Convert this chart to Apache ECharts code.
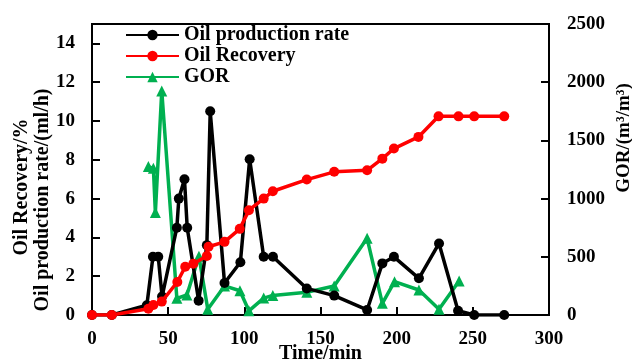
<!DOCTYPE html>
<html>
<head>
<meta charset="utf-8">
<script src="https://cdn.jsdelivr.net/npm/echarts@6/dist/echarts.min.js"></script>
<style>
html, body { margin: 0; padding: 0; background: #fff; }
#chart { width: 632px; height: 361px; }
</style>
</head>
<body>
<div id="chart"></div>
<script>
// time (min) / oil production rate (ml/h)
var rateTime = [0, 13, 36, 40, 43.5, 46, 55.7, 57, 60.7, 62.5, 70, 75.4, 77.6, 87, 97.4, 103.5, 112.7, 118.8, 141, 159, 180.6, 190.6, 198.2, 214.6, 227.8, 240.3, 250.9, 270.6];
var rateValue = [0, 0, 0.5, 3.0, 3.0, 0.95, 4.5, 6.0, 7.0, 4.5, 0.74, 3.6, 10.5, 1.65, 2.72, 8.03, 3.0, 3.0, 1.37, 1.0, 0.26, 2.66, 3.0, 1.89, 3.69, 0.22, 0, 0];

// time (min) / oil recovery (%)
var recTime = [0, 13, 37, 40.3, 45.8, 56, 61.2, 66.5, 75.4, 76.5, 87, 97, 103, 112.7, 118.7, 141, 159, 180.6, 190.6, 198.2, 214.3, 227.5, 240.6, 250.9, 270.6];
var recValue = [0, 0, 0.32, 0.52, 0.69, 1.7, 2.49, 2.64, 3.04, 3.52, 3.77, 4.44, 5.4, 6.0, 6.38, 6.98, 7.38, 7.46, 8.06, 8.58, 9.18, 10.24, 10.24, 10.24, 10.24];

// time (min) / GOR (m3/m3)
var gorTime = [37, 40.3, 41.6, 45.8, 55.7, 62.3, 70.2, 76, 87, 97.1, 103, 112.7, 118.7, 141, 159, 180.6, 190.6, 198.6, 214.6, 227.8, 241];
var gorValue = [1275, 1260, 880, 1925, 143, 172, 505, 50, 250, 208, 36, 145, 168, 195, 249, 659, 100, 286, 215, 49, 292];

var leftTicks = [0, 2, 4, 6, 8, 10, 12, 14];
var rightTicks = [0, 500, 1000, 1500, 2000, 2500];
var xTicks = [0, 50, 100, 150, 200, 250, 300];

function pairs(xs, ys) {
	return xs.map(function (x, i) { return [x, ys[i]]; });
}

var font = '"Liberation Serif", "Times New Roman", serif';
var myChart = echarts.init(document.getElementById('chart'));

var axisCommon = {
	axisLine: { show: true, lineStyle: { color: '#000', width: 2 } },
	axisTick: { show: true, inside: true, length: 8, lineStyle: { color: '#000', width: 2 } },
	axisLabel: { color: '#000', fontFamily: font, fontWeight: 'bold', fontSize: 19, formatter: function (v) { return String(v); } },
	splitLine: { show: false }
};

var option = {
	animation: false,
	backgroundColor: '#fff',
	textStyle: { fontFamily: font },
	grid: {
		left: 92, right: 83, top: 24, bottom: 46,
		outerBoundsMode: 'none',
		containLabel: false,
		show: true, borderColor: '#000', borderWidth: 2
	},
	legend: {
		orient: 'vertical',
		left: 125,
		top: 25,
		padding: 0,
		itemGap: 1,
		itemWidth: 53,
		itemHeight: 13,
		textStyle: { fontFamily: font, fontWeight: 'bold', fontSize: 20, color: '#000', lineHeight: 20 },
		data: ['Oil production rate', 'Oil Recovery', 'GOR']
	},
	xAxis: Object.assign({}, axisCommon, {
		type: 'value',
		min: xTicks[0],
		max: xTicks[xTicks.length - 1],
		interval: 50,
		name: 'Time/min',
		nameLocation: 'middle',
		nameGap: 29,
		nameMoveOverlap: false,
		nameTextStyle: { color: '#000', fontFamily: font, fontWeight: 'bold', fontSize: 20 },
		axisLabel: Object.assign({}, axisCommon.axisLabel, { margin: 15 })
	}),
	yAxis: [
		Object.assign({}, axisCommon, {
			type: 'value',
			min: leftTicks[0],
			max: 15,
			interval: 2,
			axisLabel: Object.assign({}, axisCommon.axisLabel, { margin: 17, showMaxLabel: false })
		}),
		Object.assign({}, axisCommon, {
			type: 'value',
			position: 'right',
			min: rightTicks[0],
			max: rightTicks[rightTicks.length - 1],
			interval: 500,
			axisLabel: Object.assign({}, axisCommon.axisLabel, { margin: 18 })
		})
	],
	graphic: [
		{
			type: 'text', x: 22, y: 187, rotation: Math.PI / 2,
			style: { text: 'Oil Recovery/%', font: 'bold 20px ' + font, fill: '#000', align: 'center', verticalAlign: 'middle' }
		},
		{
			type: 'text', x: 43, y: 200, rotation: Math.PI / 2,
			style: { text: 'Oil production rate/(ml/h)', font: 'bold 20px ' + font, fill: '#000', align: 'center', verticalAlign: 'middle' }
		},
		{
			type: 'text', x: 624, y: 138, rotation: Math.PI / 2,
			style: { text: 'GOR/(m\u00b3/m\u00b3)', font: 'bold 19px ' + font, fill: '#000', align: 'center', verticalAlign: 'middle' }
		}
	],
	series: [
		{
			name: 'Oil production rate',
			type: 'line',
			yAxisIndex: 0,
			data: pairs(rateTime, rateValue),
			symbol: 'circle',
			symbolSize: 10,
			itemStyle: { color: '#000' },
			lineStyle: { color: '#000', width: 3.5 },
			z: 3
		},
		{
			name: 'Oil Recovery',
			type: 'line',
			yAxisIndex: 0,
			data: pairs(recTime, recValue),
			symbol: 'circle',
			symbolSize: 10,
			itemStyle: { color: '#ff0000' },
			lineStyle: { color: '#ff0000', width: 3.5 },
			z: 4
		},
		{
			name: 'GOR',
			type: 'line',
			yAxisIndex: 1,
			data: pairs(gorTime, gorValue),
			symbol: 'triangle',
			symbolSize: 11,
			itemStyle: { color: '#00b050' },
			lineStyle: { color: '#00b050', width: 3.5 },
			z: 2
		}
	]
};

myChart.setOption(option);
</script>
</body>
</html>
